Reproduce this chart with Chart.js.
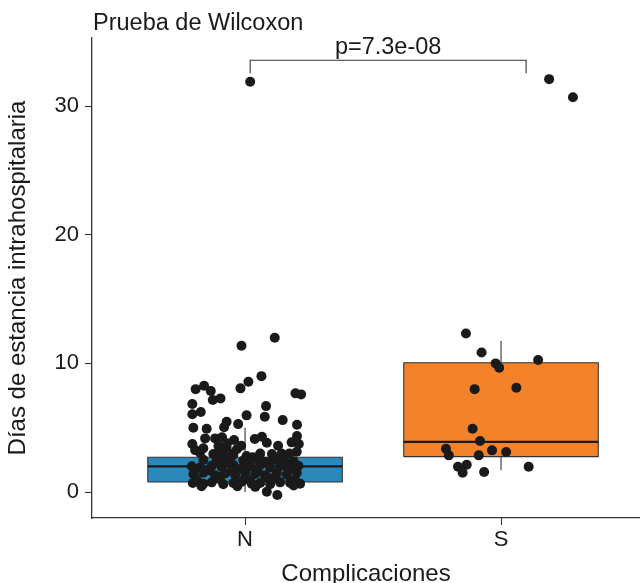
<!DOCTYPE html>
<html>
<head>
<meta charset="utf-8">
<script src="https://cdn.jsdelivr.net/npm/chart.js@4/dist/chart.umd.min.js"></script>
<style>
  html, body { margin: 0; padding: 0; background: #fff; overflow: hidden; }
  #wrap { width: 645px; height: 583px; }
</style>
</head>
<body>
<div id="wrap"><canvas id="grafikEstancia"></canvas></div>
<script>
// Datos: dias de estancia por grupo de complicaciones
const grupos = ['N', 'S'];
const yTicks = [0, 10, 20, 30];

// resumen de cajas (q1, mediana, q3, bigotes)
const q1 = [0.78, 2.75];
const mediana = [2.0, 3.9];
const q3 = [2.7, 10.05];
const bigoteBajo = [0.0, 1.7];
const bigoteAlto = [5.0, 11.75];
const coloresCaja = ['#2b88ba', '#f4822b'];

// puntos con jitter, grupo N
const nX = [1.116, 0.986, 1.064, 1.013, 0.982, 0.807, 0.84, 0.866, 0.874, 0.904, 0.794, 1.197, 1.219, 1.082, 0.794, 0.827, 1.006, 1.077, 1.147, 0.928, 0.973, 1.203, 0.798, 0.918, 0.85, 0.844, 0.883, 0.91, 0.957, 1.038, 1.066, 1.085, 1.129, 1.203, 1.21, 1.182, 0.794, 0.805, 0.837, 0.896, 0.928, 0.968, 1.202, 1.173, 1.143, 1.006, 1.105, 1.085, 1.126,
  0.837, 0.889, 0.941, 0.993, 1.046, 1.078, 1.111, 1.15, 1.189,
  0.792, 0.824, 0.870, 0.909, 0.954, 0.987, 1.02, 1.059, 1.098, 1.137, 1.176, 1.208,
  0.798, 0.837, 0.883, 0.922, 0.961, 1.0, 1.039, 1.078, 1.124, 1.163, 1.202,
  0.796, 0.837, 0.870, 0.915, 0.954, 0.987, 1.026, 1.059, 1.098, 1.137, 1.176, 1.215,
  0.811, 0.902, 1.02, 1.111, 1.195,
  0.928, 1.007, 1.163,
  0.824, 0.876, 0.909, 0.954, 1.059,
  0.93, 0.95, 0.92, 0.985, 0.89, 1.03, 1.12, 1.15, 0.86, 0.95, 1.05, 1.17, 1.0, 0.9, 1.09, 0.97, 1.04, 1.19, 0.83,
  1.02];
const nDias = [12.0, 11.37, 9.01, 8.57, 8.06, 8.0, 8.26, 7.85, 7.15, 7.28, 6.84, 7.67, 7.59, 6.68, 6.04, 6.22, 5.96, 5.85, 5.59, 5.46, 5.28, 5.23, 5.0, 5.03, 4.92, 4.17, 4.17, 4.25, 4.04, 4.12, 4.3, 3.83, 3.6, 4.35, 3.73, 3.86, 3.73, 3.26, 3.4, 3.57, 3.42, 3.32, 3.13, 3.0, 3.0, 2.8, 2.95, 0.02, -0.23,
  2.5, 2.4, 2.6, 2.45, 2.55, 2.35, 2.5, 2.6, 2.4,
  2.0, 1.9, 2.05, 1.95, 2.1, 1.85, 2.0, 2.1, 1.9, 2.0, 1.95, 2.05,
  1.4, 1.5, 1.3, 1.45, 1.35, 1.5, 1.4, 1.3, 1.45, 1.35, 1.5,
  0.7, 0.65, 0.75, 0.6, 0.7, 0.8, 0.65, 0.7, 0.6, 0.75, 0.7, 0.65,
  0.95, 1.0, 0.9, 1.05, 0.95,
  2.25, 2.15, 2.2,
  3.05, 2.95, 3.1, 2.9, 3.0,
  3.8, 2.95, 2.7, 3.6, 2.75, 2.7, 2.65, 2.2, 1.7, 1.65, 1.6, 1.75, 1.1, 1.15, 1.1, 0.45, 0.4, 0.5, 0.45,
  31.9];

// puntos con jitter, grupo S
const sX = [1.863, 1.924, 1.979, 1.993, 2.145, 1.897, 2.06, 1.889, 1.918, 1.785, 1.796, 1.965, 2.02, 1.913, 1.832, 1.866, 1.85, 1.934, 2.108, 2.188, 2.281];
const sDias = [12.33, 10.85, 10.0, 9.66, 10.26, 8.0, 8.1, 4.92, 3.96, 3.37, 2.85, 3.24, 3.11, 2.85, 1.97, 2.12, 1.5, 1.55, 1.97, 32.1, 30.7];

// corchete de la prueba
const corcheteX = [1.02, 1.02, 2.098, 2.098];
const corcheteY = [32.56, 33.57, 33.57, 32.56];
const textoP = 'p=7.3e-08';

const fuente = "'Liberation Sans', Arial, Helvetica, sans-serif";
const anchoMedio = 0.38;

function puntos(xs, ys) {
    return xs.map((x, i) => ({ x: x, y: ys[i] }));
}

const datasets = [];

// puntos encima de todo
datasets.push({
    type: 'scatter',
    data: puntos(nX, nDias).concat(puntos(sX, sDias)),
    backgroundColor: '#1a1a1a',
    borderWidth: 0,
    pointRadius: 5,
    order: 0
});

grupos.forEach((g, i) => {
    const c = i + 1;
    // mediana
    datasets.push({
        type: 'line',
        data: [{ x: c - anchoMedio, y: mediana[i] }, { x: c + anchoMedio, y: mediana[i] }],
        borderColor: '#1a1a1a',
        borderWidth: 2.2,
        pointRadius: 0,
        fill: false,
        order: 1
    });
    // caja
    datasets.push({
        type: 'line',
        data: [
            { x: c - anchoMedio, y: q1[i] },
            { x: c + anchoMedio, y: q1[i] },
            { x: c + anchoMedio, y: q3[i] },
            { x: c - anchoMedio, y: q3[i] },
            { x: c - anchoMedio, y: q1[i] }
        ],
        borderColor: '#333333',
        borderWidth: 1.1,
        backgroundColor: coloresCaja[i],
        pointRadius: 0,
        tension: 0,
        fill: 'shape',
        order: 2
    });
    // bigotes
    datasets.push({
        type: 'line',
        data: [{ x: c, y: bigoteBajo[i] }, { x: c, y: bigoteAlto[i] }],
        borderColor: '#333333',
        borderWidth: 1.1,
        pointRadius: 0,
        fill: false,
        order: 3
    });
});

// corchete
datasets.push({
    type: 'line',
    data: puntos(corcheteX, corcheteY),
    borderColor: '#333333',
    borderWidth: 1.1,
    pointRadius: 0,
    fill: false,
    order: 4
});

const textos = {
    id: 'textos',
    afterDraw(chart) {
        const ctx = chart.ctx;
        const xs = chart.scales.x, ys = chart.scales.y;
        ctx.save();
        ctx.fillStyle = '#1a1a1a';
        ctx.font = '23.5px ' + fuente;
        ctx.textAlign = 'left';
        ctx.textBaseline = 'alphabetic';
        ctx.fillText('Prueba de Wilcoxon', chart.chartArea.left + 1, 30);
        const mx = (corcheteX[0] + corcheteX[2]) / 2;
        ctx.textAlign = 'center';
        ctx.fillText(textoP, xs.getPixelForValue(mx), ys.getPixelForValue(corcheteY[1]) - 6);
        ctx.restore();
    }
};

new Chart(document.getElementById('grafikEstancia'), {
    type: 'scatter',
    data: { datasets: datasets },
    options: {
        responsive: true,
        maintainAspectRatio: false,
        animation: false,
        layout: { padding: { top: 38, right: 0, left: 0, bottom: 0 } },
        plugins: {
            legend: { display: false },
            tooltip: { enabled: false }
        },
        scales: {
            x: {
                type: 'linear',
                min: 0.402,
                max: 2.543,
                afterBuildTicks: (s) => { s.ticks = grupos.map((g, i) => ({ value: i + 1 })); },
                afterFit: (s) => { s.height = 65; },
                grid: { drawOnChartArea: false, drawTicks: true, tickLength: 7, tickColor: '#333', tickWidth: 1.1 },
                border: { color: '#333', width: 1.3 },
                ticks: {
                    color: '#1a1a1a',
                    font: { family: fuente, size: 22 },
                    padding: 2,
                    maxRotation: 0,
                    callback: (v) => grupos[v - 1]
                },
                title: {
                    display: true,
                    text: 'Complicaciones',
                    color: '#1a1a1a',
                    font: { family: fuente, size: 24, lineHeight: 1 },
                    padding: { top: 0, bottom: -3.5 }
                }
            },
            y: {
                min: -2.02,
                max: 35.3,
                afterBuildTicks: (s) => { s.ticks = yTicks.map(v => ({ value: v })); },
                afterFit: (s) => { s.width = 92; },
                grid: { drawOnChartArea: false, drawTicks: true, tickLength: 7, tickColor: '#333', tickWidth: 1.1 },
                border: { color: '#333', width: 1.3 },
                ticks: {
                    color: '#1a1a1a',
                    font: { family: fuente, size: 22 },
                    padding: 6
                },
                title: {
                    display: true,
                    text: 'Días de estancia intrahospitalaria',
                    color: '#1a1a1a',
                    font: { family: fuente, size: 24, lineHeight: 1 },
                    padding: { top: 6.5, bottom: 0 }
                }
            }
        }
    },
    plugins: [textos]
});
</script>
</body>
</html>
